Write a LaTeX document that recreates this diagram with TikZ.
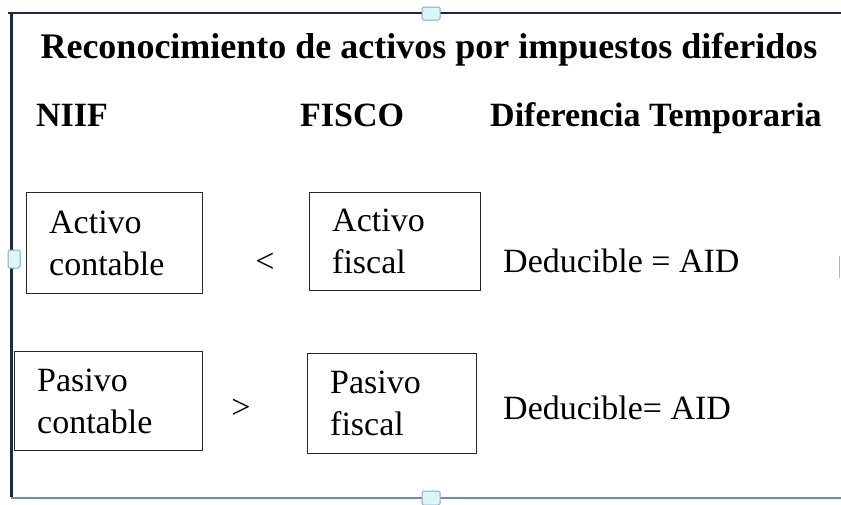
\documentclass[tikz,border=0pt]{standalone}
\usepackage{fontspec}
\setmainfont{Liberation Serif}
\definecolor{framedark}{HTML}{1E2B3C}
\definecolor{frameblue}{HTML}{6F8BAE}
\definecolor{handlefill}{HTML}{DCF5FB}
\definecolor{handleline}{HTML}{8AA6C4}
\tikzset{
  box/.style={draw=black!85, line width=1.4pt, anchor=north west, align=left,
    inner xsep=22pt, inner ysep=0pt, font=\fontsize{34}{42}\selectfont},
  bodytext/.style={inner sep=0pt, anchor=base west, font=\fontsize{34}{40}\selectfont},
  headtext/.style={inner sep=0pt, anchor=base west, font=\bfseries\fontsize{34}{40}\selectfont},
  handle/.style={fill=handlefill, draw=handleline, line width=1pt, rounded corners=1.5pt}
}
\begin{document}
\begin{tikzpicture}[x=1pt,y=-1pt]
\useasboundingbox (0,0) rectangle (841,504);
% frame
\draw[framedark, line width=2.5pt] (8,13) -- (841,13);
\draw[framedark, line width=3pt] (11,12) -- (11,497);
\draw[frameblue, line width=1.5pt] (11,498) -- (841,498);
\draw[gray!60, line width=1pt] (839,256) -- (839,278);
% handles
\draw[handle] (422,7) rectangle (440,20);
\draw[handle] (8,250) rectangle (20,268);
\draw[handle] (422,491) rectangle (440,505);
% title and headers
\node[inner sep=0pt, anchor=base, font=\bfseries\fontsize{36}{40}\selectfont] (title) at (429,58) {Reconocimiento de activos por impuestos diferidos};
\node[headtext] (niif) at (36,126) {NIIF};
\node[headtext] (fisco) at (300,126) {FISCO};
\node[headtext] (dif) at (490,126) {Diferencia Temporaria};
% boxes
\node[box, text width=131pt, minimum width=176pt, minimum height=101pt] (ac) at (26,192) {Activo\\contable};
\node[box, text width=126pt, minimum width=171pt, minimum height=98pt] (af) at (309,192) {Activo\\fiscal};
\node[box, text width=143pt, minimum width=188pt, minimum height=99pt] (pc) at (14,351) {Pasivo\\contable};
\node[box, text width=124pt, minimum width=169pt, minimum height=100pt] (pf) at (307,353) {Pasivo\\fiscal};
% relations
\node[bodytext, anchor=base] (lt) at (265,272) {<};
\node[bodytext, anchor=base] (gt) at (241,418) {>};
\node[bodytext] (d1) at (503,272) {Deducible = AID};
\node[bodytext] (d2) at (503,419) {Deducible= AID};
\end{tikzpicture}
\end{document}
